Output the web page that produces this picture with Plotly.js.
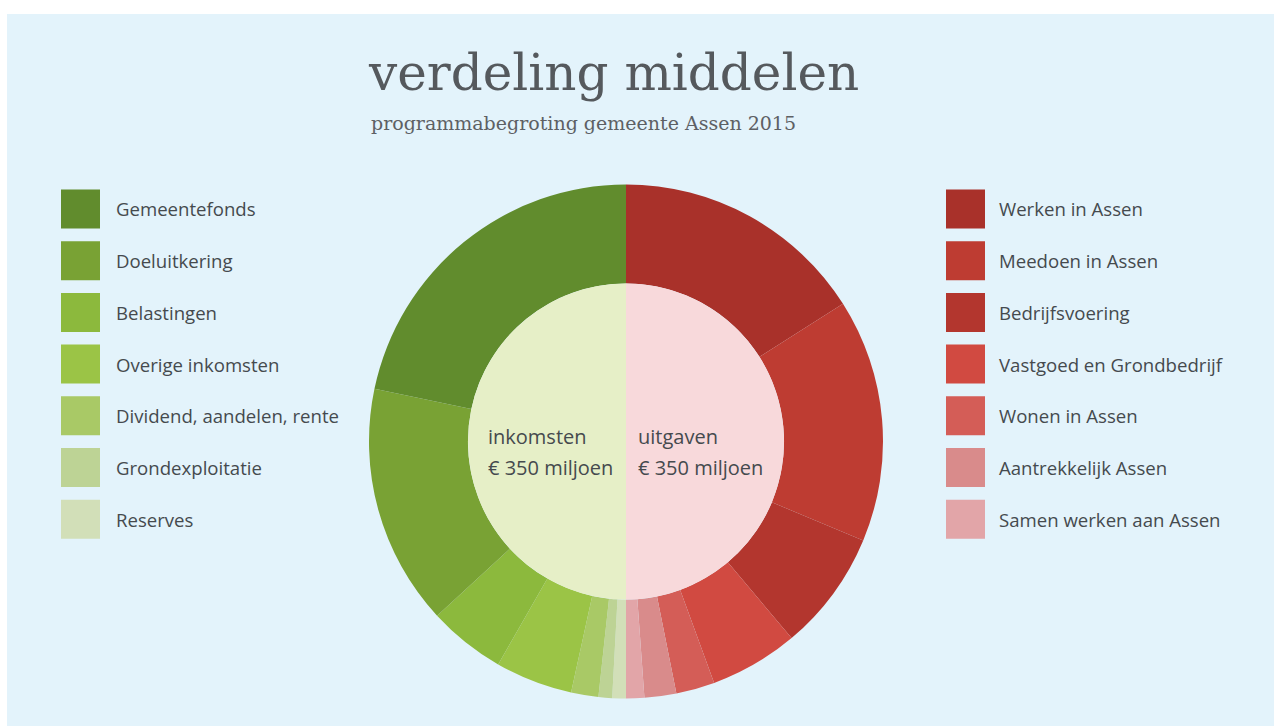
<!DOCTYPE html>
<html>
<head>
<meta charset="utf-8">
<script src="https://cdn.plot.ly/plotly-3.0.1.min.js"></script>
<style>html,body{margin:0;padding:0;background:#fff;}#chart{width:1274px;height:726px;}</style>
</head>
<body>
<div id="chart"></div>
<script>
// ---- data (€ miljoen) ----
const incomeLabels = ["Gemeentefonds", "Doeluitkering", "Belastingen", "Overige inkomsten", "Dividend, aandelen, rente", "Grondexploitatie", "Reserves"];
const incomeValues = [152, 106, 34, 34, 12, 6, 6];
const incomeColors = ["#618c2d", "#79a234", "#8cb93d", "#9bc446", "#a9c966", "#bdd395", "#d2dfb8"];

const expenseLabels = ["Werken in Assen", "Meedoen in Assen", "Bedrijfsvoering", "Vastgoed en Grondbedrijf", "Wonen in Assen", "Aantrekkelijk Assen", "Samen werken aan Assen"];
const expenseValues = [112, 107, 53, 39, 17, 14, 8];
const expenseColors = ["#a9312a", "#be3c32", "#b3362e", "#d14a41", "#d45d57", "#d98b8b", "#e2a5a8"];

const totalLabels = ["uitgaven", "inkomsten"];
const totalColors = ["#f8d9db", "#e6efc7"];

const titleText = "verdeling middelen";
const subtitleText = "programmabegroting gemeente Assen 2015";

// ---- derived ----
const sum = a => a.reduce((s, v) => s + v, 0);
const totalValues = [sum(expenseValues), sum(incomeValues)];

// ring: expenses clockwise from 12 o'clock, then incomes in reverse so Gemeentefonds ends at the top
const ringLabels = expenseLabels.concat(incomeLabels.slice().reverse());
const ringValues = expenseValues.concat(incomeValues.slice().reverse());
const ringColors = expenseColors.concat(incomeColors.slice().reverse());

const W = 1274, H = 726;
const px = x => x / W;
const py = y => 1 - y / H;

const traces = [
  {
    type: "pie",
    labels: ringLabels,
    values: ringValues,
    marker: { colors: ringColors, line: { width: 0 } },
    sort: false,
    direction: "clockwise",
    rotation: 0,
    hole: 0.615,
    textinfo: "none",
    hoverinfo: "label+value",
    showlegend: false,
    domain: { x: [px(369), px(883)], y: [py(698.5), py(184.5)] }
  },
  {
    type: "pie",
    labels: totalLabels,
    values: totalValues,
    marker: { colors: totalColors, line: { width: 0 } },
    sort: false,
    direction: "clockwise",
    rotation: 0,
    textinfo: "none",
    hoverinfo: "label+value",
    showlegend: false,
    domain: { x: [px(468), px(784)], y: [py(599.5), py(283.5)] }
  }
];

const shapes = [
  { type: "rect", xref: "paper", yref: "paper", x0: px(7), x1: 1, y0: 0, y1: py(14),
    fillcolor: "#e3f3fb", line: { width: 0 }, layer: "below" }
];
const annotations = [];
const txtFont = { family: "Open Sans, Noto Sans, sans-serif", size: 18.6, color: "#454a4e" };
const step = 51.7, firstY = 209, sw = 39;

function addLegend(labels, colors, sx, tx) {
  labels.forEach((lab, i) => {
    const cy = firstY + i * step;
    shapes.push({ type: "rect", xref: "paper", yref: "paper",
      x0: px(sx), x1: px(sx + sw), y0: py(cy + sw / 2), y1: py(cy - sw / 2),
      fillcolor: colors[i], line: { width: 0 } });
    annotations.push({ xref: "paper", yref: "paper", x: px(tx), y: py(cy),
      xanchor: "left", yanchor: "middle", text: lab, showarrow: false, font: txtFont });
  });
}
addLegend(incomeLabels, incomeColors, 61, 114);
addLegend(expenseLabels, expenseColors, 946, 997);

const centerFont = { family: "Open Sans, Noto Sans, sans-serif", size: 20, color: "#454a4e" };
annotations.push(
  { xref: "paper", yref: "paper", x: px(486), y: py(436), xanchor: "left", yanchor: "middle",
    text: totalLabels[1], showarrow: false, font: centerFont },
  { xref: "paper", yref: "paper", x: px(486), y: py(467), xanchor: "left", yanchor: "middle",
    text: "€ " + totalValues[1] + " miljoen", showarrow: false, font: centerFont },
  { xref: "paper", yref: "paper", x: px(636), y: py(436), xanchor: "left", yanchor: "middle",
    text: totalLabels[0], showarrow: false, font: centerFont },
  { xref: "paper", yref: "paper", x: px(636), y: py(467), xanchor: "left", yanchor: "middle",
    text: "€ " + totalValues[0] + " miljoen", showarrow: false, font: centerFont },
  { xref: "paper", yref: "paper", x: px(369), y: py(123), xanchor: "left", yanchor: "middle",
    text: subtitleText, showarrow: false,
    font: { family: "DejaVu Serif, Liberation Serif, serif", size: 19, color: "#5d6064" } }
);

const layout = {
  width: W, height: H,
  margin: { l: 0, r: 0, t: 0, b: 0 },
  paper_bgcolor: "#ffffff",
  title: { text: titleText, x: px(369), xanchor: "left", xref: "paper",
           y: py(72), yanchor: "middle", yref: "paper",
           font: { family: "DejaVu Serif, Liberation Serif, serif", size: 50, color: "#55595d" } },
  shapes: shapes,
  annotations: annotations,
  showlegend: false,
  hovermode: false
};

Plotly.newPlot("chart", traces, layout, { displayModeBar: false, staticPlot: true });
</script>
</body>
</html>
